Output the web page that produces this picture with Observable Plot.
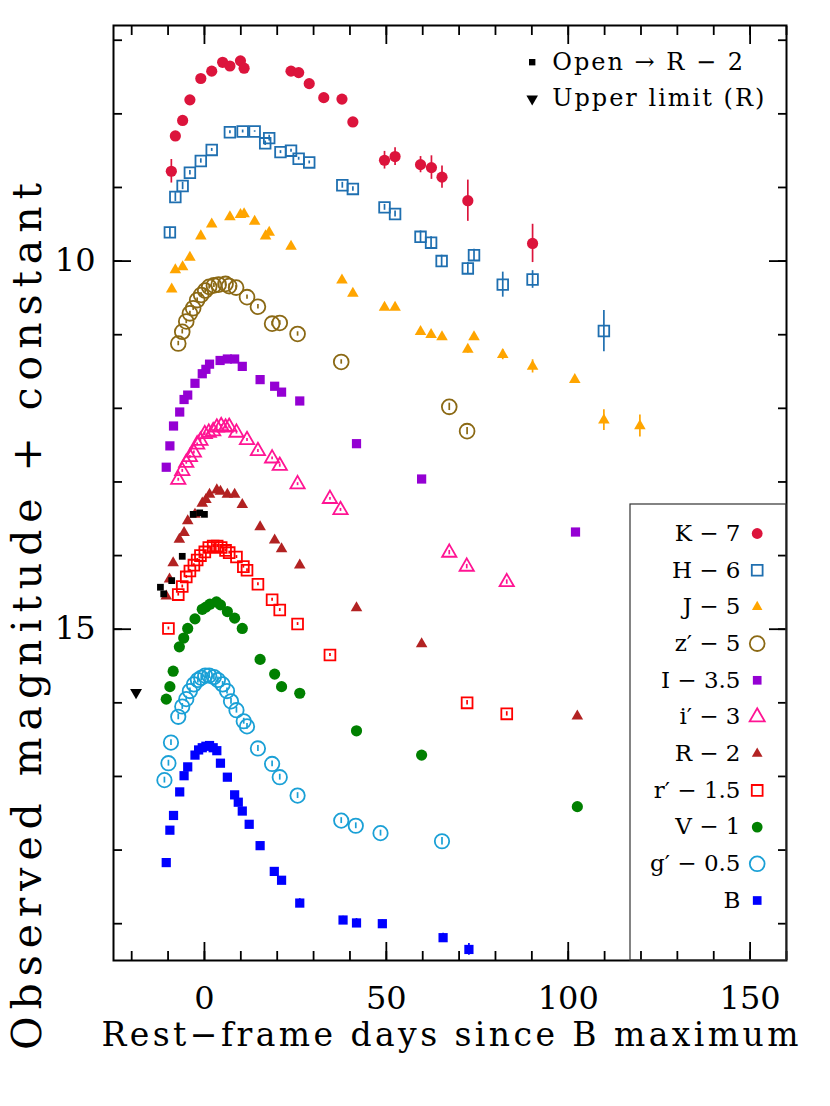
<!DOCTYPE html>
<html><head><meta charset="utf-8">
<script src="https://cdn.jsdelivr.net/npm/d3@7"></script>
<script src="https://cdn.jsdelivr.net/npm/@observablehq/plot@0.6"></script>
<style>body{margin:0;background:#fff}</style>
</head><body><div id="chart"></div>
<script>
// [rest-frame day, magnitude + constant, error]
const bandK = [[-9.1,8.78,0.16],[-8.0,8.30,0],[-6.0,8.09,0],[-4.0,7.81,0],[-1.0,7.52,0],[2.0,7.42,0],[5.0,7.30,0],[7.0,7.35,0],[9.9,7.28,0],[10.9,7.38,0],[23.8,7.42,0],[25.9,7.44,0],[28.8,7.59,0],[32.8,7.78,0],[37.8,7.80,0],[40.8,8.11,0],[49.5,8.63,0.12],[52.4,8.58,0.12],[59.4,8.69,0.11],[62.4,8.73,0.16],[65.3,8.86,0.15],[72.4,9.18,0.28],[90.2,9.76,0.26]];
const bandH = [[-9.5,9.61,0.07],[-8.0,9.13,0.06],[-6.0,8.98,0.05],[-4.0,8.80,0.03],[-1.0,8.64,0.03],[2.0,8.49,0.02],[7.0,8.25,0.02],[10.5,8.24,0.02],[13.8,8.24,0.01],[16.7,8.40,0.03],[17.8,8.33,0.04],[20.9,8.52,0.02],[23.8,8.50,0.02],[25.9,8.61,0.02],[28.8,8.66,0.02],[37.9,8.97,0.04],[40.8,9.02,0.03],[49.5,9.27,0.04],[52.4,9.36,0.04],[59.4,9.67,0.08],[62.3,9.75,0.08],[65.2,10.00,0.08],[72.4,10.10,0.08],[74.1,9.92,0.08],[82.0,10.32,0.17],[90.2,10.25,0.12],[109.8,10.95,0.28]];
const bandJ = [[-9.0,10.38,0],[-8.0,10.12,0],[-6.0,10.08,0],[-4.0,9.95,0],[-1.0,9.66,0],[2.0,9.50,0],[7.0,9.40,0],[9.9,9.37,0],[10.9,9.36,0],[13.8,9.46,0],[16.8,9.66,0],[17.8,9.61,0],[23.8,9.80,0],[37.8,10.26,0],[40.8,10.44,0],[49.5,10.63,0],[52.4,10.63,0],[59.4,10.96,0],[62.3,11.00,0],[65.3,11.03,0],[72.4,11.20,0.05],[74.1,11.03,0.05],[82.0,11.27,0.07],[90.2,11.43,0.09],[101.8,11.61,0.04],[109.8,12.16,0.14],[119.7,12.24,0.15]];
const bandZ = [[-7.2,11.12,0.03],[-6.1,10.96,0.03],[-5.0,10.82,0.03],[-4.0,10.71,0.03],[-3.1,10.64,0.03],[-2.0,10.53,0.03],[-0.9,10.46,0.03],[0.2,10.40,0.03],[1.3,10.35,0.03],[2.6,10.33,0.03],[3.9,10.32,0.03],[5.8,10.31,0.03],[6.8,10.34,0.03],[8.7,10.36,0.03],[11.7,10.49,0.03],[14.7,10.62,0.03],[18.6,10.85,0.03],[20.7,10.84,0.03],[25.6,10.99,0.03],[37.6,11.37,0.03],[67.3,11.98,0.05],[72.2,12.31,0.05]];
const bandI = [[-10.5,12.80,0],[-9.5,12.51,0],[-8.5,12.24,0],[-6.8,12.05,0],[-5.6,11.88,0],[-4.6,11.82,0],[-2.6,11.66,0],[-0.6,11.53,0],[0.4,11.47,0],[1.4,11.40,0],[4.3,11.35,0],[6.3,11.33,0],[8.3,11.33,0],[10.4,11.43,0],[15.3,11.61,0],[19.3,11.70,0],[21.2,11.78,0],[26.2,11.90,0],[41.8,12.48,0],[59.7,12.96,0],[102.0,13.68,0]];
const bandIp = [[-7.2,12.97,0.02],[-6.1,12.85,0.02],[-5.0,12.74,0.02],[-4.0,12.66,0.02],[-2.9,12.60,0.02],[-2.0,12.49,0.02],[-1.1,12.44,0.02],[0.1,12.35,0.02],[1.2,12.33,0.02],[2.4,12.31,0.02],[3.4,12.26,0.02],[4.6,12.24,0.02],[5.8,12.26,0.02],[6.8,12.25,0.02],[8.8,12.33,0.02],[11.7,12.43,0.02],[14.7,12.58,0.02],[18.6,12.68,0.02],[20.7,12.78,0.02],[25.6,13.03,0.02],[34.5,13.23,0.02],[37.4,13.38,0.02],[67.3,13.96,0.03],[72.1,14.15,0.03],[83.1,14.36,0.03]];
const bandR = [[-10.5,14.55,0],[-9.6,14.32,0],[-8.6,14.10,0],[-6.9,13.78,0],[-5.6,13.69,0],[-4.6,13.53,0],[-2.6,13.44,0],[-0.6,13.29,0],[0.4,13.24,0],[1.4,13.17,0],[3.4,13.11,0],[4.4,13.13,0],[6.3,13.17,0],[8.3,13.17,0],[10.4,13.31,0],[15.3,13.61,0],[19.3,13.79,0],[21.2,13.91,0],[26.2,14.13,0],[41.8,14.71,0],[59.7,15.20,0],[102.5,16.18,0.03]];
const bandOpenR = [[-12.1,14.43,0],[-11.2,14.52,0],[-9.0,14.34,0],[-6.1,14.01,0],[-3.1,13.44,0],[-1.3,13.42,0],[0.0,13.44,0]];
const bandRp = [[-9.9,14.99,0.02],[-7.2,14.53,0.02],[-6.1,14.42,0.02],[-5.0,14.29,0.02],[-4.0,14.21,0.02],[-2.9,14.13,0.02],[-2.0,14.06,0.02],[-1.1,14.00,0.02],[0.1,13.95,0.02],[1.2,13.89,0.02],[2.4,13.87,0.02],[3.5,13.87,0.02],[4.6,13.89,0.02],[5.8,13.93,0.02],[6.8,13.96,0.02],[8.8,14.02,0.02],[10.7,14.15,0.02],[11.7,14.20,0.02],[14.7,14.39,0.02],[18.6,14.60,0.02],[20.7,14.74,0.02],[25.6,14.93,0.02],[34.5,15.35,0.02],[72.2,16.00,0.03],[83.1,16.15,0.03]];
const bandV = [[-10.5,15.95,0],[-9.5,15.78,0],[-8.6,15.57,0],[-6.9,15.24,0],[-5.7,15.12,0],[-4.6,14.99,0],[-2.6,14.86,0],[-0.6,14.73,0],[0.4,14.70,0],[1.5,14.66,0],[3.3,14.63,0],[4.4,14.67,0],[6.3,14.76,0],[8.3,14.85,0],[10.4,14.99,0],[15.3,15.41,0],[19.3,15.61,0],[21.2,15.78,0],[26.2,15.87,0],[41.8,16.38,0],[59.7,16.71,0],[102.5,17.41,0]];
const upperLimitR = [[-18.8,15.86,0]];
const bandGp = [[-11.0,17.05,0.04],[-9.9,16.82,0.04],[-9.2,16.54,0.04],[-7.2,16.19,0.04],[-6.1,16.05,0.04],[-5.0,15.95,0.04],[-4.0,15.84,0.04],[-2.9,15.75,0.04],[-1.8,15.69,0.04],[-0.9,15.66,0.04],[0.2,15.63,0.04],[1.3,15.63,0.04],[2.6,15.65,0.04],[3.7,15.69,0.04],[5.0,15.75,0.04],[6.2,15.84,0.04],[7.3,15.98,0.04],[8.8,16.10,0.04],[10.8,16.25,0.04],[11.7,16.32,0.04],[14.7,16.62,0.04],[18.6,16.83,0.04],[20.7,17.01,0.04],[25.6,17.26,0.04],[37.6,17.60,0.04],[41.6,17.67,0.04],[48.4,17.77,0.04],[65.3,17.88,0.05]];
const bandB = [[-10.5,18.17,0],[-9.5,17.73,0],[-8.5,17.53,0],[-6.8,17.21,0],[-5.6,16.99,0],[-4.6,16.87,0],[-2.6,16.71,0],[-1.6,16.64,0],[-0.6,16.61,0],[0.4,16.59,0],[1.4,16.58,0],[2.4,16.61,0],[3.4,16.65,0],[4.4,16.82,0],[6.3,17.01,0],[8.3,17.25,0],[9.3,17.35,0],[10.4,17.47,0],[12.3,17.65,0],[15.3,17.94,0],[19.2,18.29,0],[21.2,18.41,0],[26.2,18.72,0.06],[38.1,18.95,0.05],[41.8,18.99,0.06],[48.9,19.00,0.05],[65.6,19.19,0.06],[72.7,19.35,0.08]];

const xMajorTicks = [0, 50, 100, 150];
const xMinorTicks = [-20,-10,0,10,20,30,40,50,60,70,80,90,100,110,120,130,140,150,160];
const yMajorTicks = [10, 15];
const yMinorTicks = [7,8,9,10,11,12,13,14,15,16,17,18,19];

const legendLabels = ["K − 7","H − 6","J − 5","z′ − 5","I − 3.5","i′ − 3","R − 2","r′ − 1.5","V − 1","g′ − 0.5","B"];
const topLegendLabels = ["Open → R − 2", "Upper limit (R)"];
const xLabel = "Rest−frame days since B maximum";
const yLabel = "Observed magnitude + constant";

// styles
const bands = [
  {data: bandK,  color: "#dc143c", symbol: "circle",   filled: true,  r: 5.6, lr: 5.4},
  {data: bandH,  color: "#1f6fb0", symbol: "square",   filled: false, r: 6.0, lr: 6.1},
  {data: bandJ,  color: "#ffa500", symbol: "triangle", filled: true,  r: 4.3, lr: 3.9},
  {data: bandZ,  color: "#8b6914", symbol: "circle",   filled: false, r: 7.4, lr: 7.4},
  {data: bandI,  color: "#9400d3", symbol: "square",   filled: true,  r: 5.2, lr: 4.9},
  {data: bandIp, color: "#ff1493", symbol: "triangle", filled: false, r: 5.3, lr: 5.6},
  {data: bandR,  color: "#b22222", symbol: "triangle", filled: true,  r: 4.3, lr: 4.0},
  {data: bandRp, color: "#ff0000", symbol: "square",   filled: false, r: 6.1, lr: 6.1},
  {data: bandV,  color: "#008000", symbol: "circle",   filled: true,  r: 5.6, lr: 5.4},
  {data: bandGp, color: "#1aa0d6", symbol: "circle",   filled: false, r: 7.2, lr: 7.4},
  {data: bandB,  color: "#0000ff", symbol: "square",   filled: true,  r: 5.2, lr: 4.9}
];

const FONT = "DejaVu Serif";
const marks = [];

// error bars + points
for (const b of bands) {
  marks.push(Plot.ruleX(b.data.filter(d => d[2] > 0), {
    x: d => d[0], y1: d => d[1] - d[2], y2: d => d[1] + d[2],
    stroke: b.color, strokeWidth: 1.7
  }));
  marks.push(Plot.dot(b.data, {
    x: d => d[0], y: d => d[1], symbol: b.symbol, r: b.r,
    fill: b.filled ? b.color : "none", stroke: b.filled ? "none" : b.color,
    strokeWidth: 1.8
  }));
}
marks.push(Plot.dot(bandOpenR, {x: d => d[0], y: d => d[1], symbol: "square", r: 3.8, fill: "black"}));
marks.push(Plot.dot(upperLimitR, {x: d => d[0], y: d => d[1], symbol: "triangle", rotate: 180, r: 4.4, fill: "black"}));

// legend (right box)
bands.forEach((b, i) => {
  marks.push(Plot.text([legendLabels[i]], {
    text: d => d, frameAnchor: "top-right", dx: -46, dy: 508 + i * 36.7,
    textAnchor: "end", lineAnchor: "middle", fontSize: 23, fontFamily: FONT, fill: "black"
  }));
  marks.push(Plot.dot([0], {
    frameAnchor: "top-right", dx: -29.3, dy: 508 + i * 36.7,
    symbol: b.symbol, r: b.lr,
    fill: b.filled ? b.color : "none", stroke: b.filled ? "none" : b.color, strokeWidth: 1.8
  }));
});
// top legend
topLegendLabels.forEach((t, i) => {
  marks.push(Plot.text([t], {text: d => d, frameAnchor: "top-left", dx: 438.7, dy: 36.7 + i * 36.6, textAnchor: "start", lineAnchor: "middle", fontSize: 24, fontFamily: FONT}));
});
marks.push(Plot.dot([0], {frameAnchor: "top-left", dx: 418.7, dy: 36.7, symbol: "square", r: 3.6, fill: "black"}));
marks.push(Plot.dot([0], {frameAnchor: "top-left", dx: 418.7, dy: 73.3, symbol: "triangle", rotate: 180, r: 4.3, fill: "black"}));

// axes: ticks inward on all four sides
const blank = () => "";
for (const anchor of ["bottom", "top"]) {
  marks.push(Plot.axisX(xMinorTicks, {anchor, tickSize: -9, tickFormat: blank, label: null, strokeWidth: 1.8}));
  marks.push(Plot.axisX(xMajorTicks, {anchor, tickSize: -18, tickFormat: blank, label: null, strokeWidth: 1.8}));
}
for (const anchor of ["left", "right"]) {
  marks.push(Plot.axisY(yMinorTicks, {anchor, tickSize: -9, tickFormat: blank, label: null, strokeWidth: 1.8}));
  marks.push(Plot.axisY(yMajorTicks, {anchor, tickSize: -18, tickFormat: blank, label: null, strokeWidth: 1.8}));
}
marks.push(Plot.axisX(xMajorTicks, {anchor: "bottom", tickSize: 0, tickPadding: 26, label: null, fontSize: 32, fontFamily: FONT, tickFormat: d => String(d)}));
marks.push(Plot.axisY(yMajorTicks, {anchor: "left", tickSize: 0, tickPadding: 18, label: null, fontSize: 32, fontFamily: FONT, tickFormat: d => String(d)}));
marks.push(Plot.frame({stroke: "black", strokeWidth: 2}));

// axis titles
marks.push(Plot.text([xLabel], {text: d => d, frameAnchor: "bottom", dy: 75, textAnchor: "middle", lineAnchor: "middle", fontSize: 33, fontFamily: FONT}));
marks.push(Plot.text([yLabel], {text: d => d, frameAnchor: "left", rotate: -90, dx: -86, dy: 123.5, textAnchor: "middle", lineAnchor: "middle", fontSize: 41, fontFamily: FONT}));

const chart = Plot.plot({
  width: 830, height: 1106,
  marginLeft: 113, marginRight: 44, marginTop: 25, marginBottom: 146,
  x: {domain: [-25, 160]},
  y: {domain: [6.8, 19.5], reverse: true},
  style: {fontFamily: FONT, background: "white", color: "black"},
  marks
});
document.getElementById("chart").append(chart);

const svg = d3.select(chart);
const byText = s => svg.selectAll("text").filter(function () { return this.textContent === s; });
byText(xLabel).attr("textLength", 697).attr("lengthAdjust", "spacing");
byText(yLabel).attr("textLength", 867).attr("lengthAdjust", "spacing");
topLegendLabels.forEach(t => byText(t).style("letter-spacing", "2px"));
// legend box
svg.append("rect").attr("x", 630).attr("y", 504).attr("width", 786 - 630).attr("height", 960 - 504)
  .attr("fill", "none").attr("stroke", "#333").attr("stroke-width", 1.2);
</script>
</body></html>
